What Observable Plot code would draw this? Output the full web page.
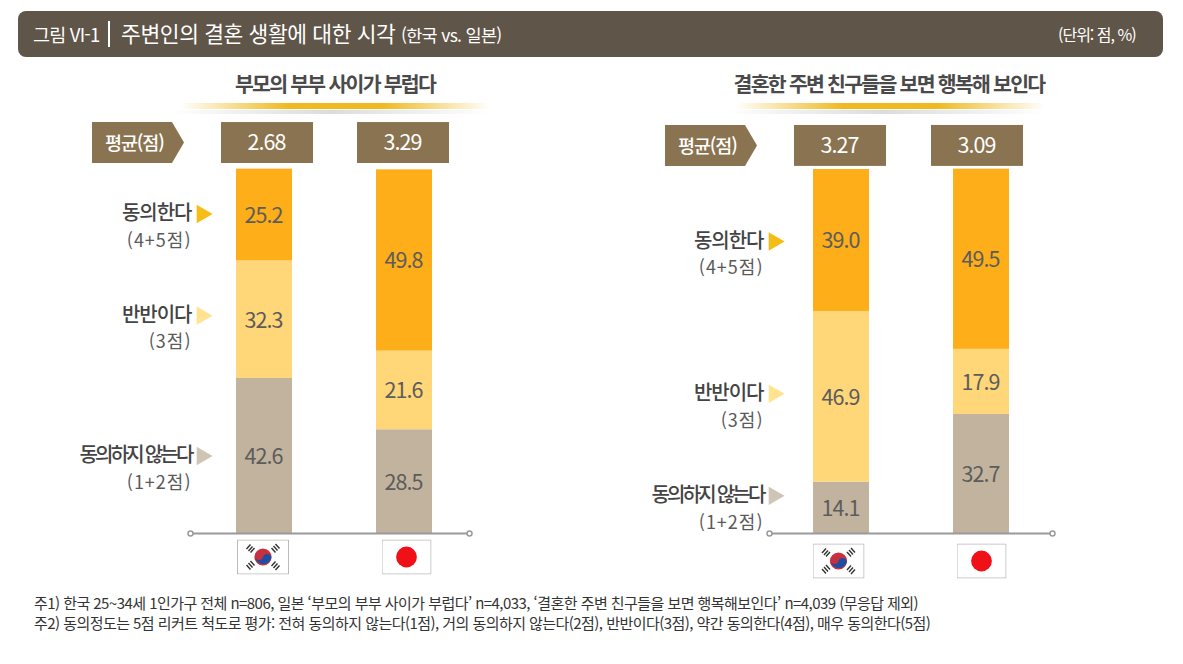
<!DOCTYPE html>
<html lang="ko">
<head>
<meta charset="utf-8">
<script src="https://cdn.jsdelivr.net/npm/d3@7"></script>
<script src="https://cdn.jsdelivr.net/npm/@observablehq/plot@0.6"></script>
<style>
  html, body { margin: 0; padding: 0; background: #fff; }
  #stage { position: relative; width: 1183px; height: 664px; overflow: hidden;
           font-family: "Noto Sans CJK KR", "Noto Sans", sans-serif; }
  #stage svg { position: absolute; top: 0; background: transparent; overflow: visible; }
  .abs { position: absolute; white-space: nowrap; }
  #header { left: 18px; top: 11px; width: 1145px; height: 46px; border-radius: 8px; background: #5f5548; color: #fff; }
  #header span { position: absolute; white-space: nowrap; line-height: 1; }
  .panelTitle { top: 69px; font-size: 20.5px; font-weight: 700; color: #4a4a4a; letter-spacing: -1.75px;
                transform: translateX(-50%); line-height: 28px; }
  .gold { height: 6px; background: linear-gradient(90deg, rgba(240,185,30,0), #f1b91f 35%, #f1b91f 65%, rgba(240,185,30,0)); }
  .grey { height: 4px; background: linear-gradient(90deg, rgba(200,200,200,0), #dcdcdc 50%, rgba(200,200,200,0)); }
  .tag { width: 92px; height: 41px; background: #8a7350; color: #fff; font-size: 18.5px; font-weight: 500; letter-spacing: -1.1px;
         line-height: 40px; text-indent: 13px; clip-path: polygon(0 0, 80px 0, 92px 50%, 80px 100%, 0 100%); }
  .note { left: 34px; font-size: 15px; color: #333; letter-spacing: -.55px; line-height: 20px; }
</style>
</head>
<body>
<div id="stage">
  <div id="header" class="abs">
    <span style="left:15px;top:14px;font-size:18.5px;letter-spacing:-.8px">그림 VI-1</span>
    <span style="left:90px;top:10px;width:1.5px;height:26px;background:#fff"></span>
    <span style="left:103px;top:11px;font-size:21.5px;letter-spacing:-.4px">주변인의 결혼 생활에 대한 시각</span>
    <span style="left:383px;top:15px;font-size:17.5px;letter-spacing:-.7px">(한국 vs. 일본)</span>
    <span style="left:1040px;top:15px;font-size:16px;letter-spacing:-1px">(단위: 점, %)</span>
  </div>
  <div class="abs panelTitle" style="left:335px">부모의 부부 사이가 부럽다</div>
  <div class="abs gold" style="left:180px;top:103px;width:310px"></div>
  <div class="abs grey" style="left:170px;top:110px;width:320px"></div>
  <div class="abs panelTitle" style="left:889px">결혼한 주변 친구들을 보면 행복해 보인다</div>
  <div class="abs gold" style="left:735px;top:103px;width:310px"></div>
  <div class="abs grey" style="left:725px;top:110px;width:320px"></div>
  <div class="abs note" style="top:593px">주1) 한국 25~34세 1인가구 전체 n=806, 일본 ‘부모의 부부 사이가 부럽다’ n=4,033, ‘결혼한 주변 친구들을 보면 행복해보인다’ n=4,039 (무응답 제외)</div>
  <div class="abs note" style="top:613px">주2) 동의정도는 5점 리커트 척도로 평가: 전혀 동의하지 않는다(1점), 거의 동의하지 않는다(2점), 반반이다(3점), 약간 동의한다(4점), 매우 동의한다(5점)</div>
</div>
<script>
// Data
const countries = ["한국", "일본"];
const levels = ["동의하지 않는다", "반반이다", "동의한다"];
const levelNotes = ["(1+2점)", "(3점)", "(4+5점)"];
const parentsKorea = [42.6, 32.3, 25.2];
const parentsJapan = [28.5, 21.6, 49.8];
const friendsKorea = [14.1, 46.9, 39.0];
const friendsJapan = [32.7, 17.9, 49.5];
const parentsMeans = [2.68, 3.29];
const friendsMeans = [3.27, 3.09];
const meanLabel = "평균(점)";

const levelColors = ["#c2b39e", "#ffd678", "#fdae19"];
const arrowColors = ["#cfc5b4", "#ffe391", "#f6bd16"];

const flagKR = "data:image/svg+xml," + encodeURIComponent(`<svg xmlns="http://www.w3.org/2000/svg" width="52" height="35" viewBox="0 0 52 35">
<rect x=".5" y=".5" width="51" height="34" fill="#fff" stroke="#bbb"/>
<circle cx="26" cy="17.5" r="8.6" fill="#c8303f"/>
<path d="M17.6 16.5a4.3 4.3 0 0 0 8.4 1a4.3 4.3 0 0 1 8.4 1a8.6 8.6 0 0 1-16.8-2z" fill="#1f4ea1"/>
<g stroke="#333" stroke-width="1.4" fill="none">
<path d="M9.5 9.5l4-4.5M11.5 11.5l4-4.5M13.5 13l4-4.5"/>
<path d="M34.5 8.5l4 4.5M36.5 6.5l4 4.5M38.5 4.5l4 4.5"/>
<path d="M9.5 25.5l4 4.5M11.5 23.5l4 4.5M13.5 21.5l4 4.5"/>
<path d="M34.5 26.5l4-4.5M36.5 28.5l4-4.5M38.5 30.5l4-4.5"/>
</g></svg>`);
const flagJP = "data:image/svg+xml," + encodeURIComponent(`<svg xmlns="http://www.w3.org/2000/svg" width="50" height="35" viewBox="0 0 50 35">
<rect x=".5" y=".5" width="49" height="34" fill="#fff" stroke="#bbb"/>
<circle cx="25" cy="17.5" r="10.4" fill="#f01018"/></svg>`);

// Applies a per-row pixel shift (and optional letter spacing) after a mark has rendered
function shifted(labels, selector, extraDy, spacing) {
  return (i, s, v, d, ctx, next) => {
    const g = next(i, s, v, d, ctx);
    d3.select(g).selectAll(selector).each(function(_, k) {
      const el = d3.select(this);
      const t = el.attr("transform") || "";
      el.attr("transform", `translate(0,${labels[i[k]].dy + extraDy}) ${t}`);
      if (spacing) el.style("letter-spacing", spacing(labels[i[k]]));
    });
    return g;
  };
}

function spacedValues(spacing) {
  return (i, s, v, d, ctx, next) => {
    const g = next(i, s, v, d, ctx);
    d3.select(g).selectAll("text").style("letter-spacing", spacing);
    return g;
  };
}

function panel(cfg) {
  const rows = [];
  countries.forEach((country, c) => levels.forEach((level, l) => {
    rows.push({country, level, value: cfg.series[c][l]});
  }));
  const stacked = {x: "country", y: "value", z: "level"};
  let base = 0;
  const labels = levels.map((level, i) => {
    const v = cfg.series[0][i];
    const row = {level, note: levelNotes[i], color: arrowColors[i], y: base + v / 2, dy: cfg.labelDy[i]};
    base += v;
    return row;
  });
  const font = {fontFamily: '"Noto Sans CJK KR", sans-serif'};
  const marks = [
    Plot.barY(rows, Plot.stackY({...stacked, fill: "level"})),
    Plot.text(rows, Plot.stackY({...stacked, text: d => d.value.toFixed(1), fill: "#5c5c5c", fontSize: 21.5, dy: 1, dx: -1, ...font, render: spacedValues("-1px")})),
    Plot.ruleY([0], {stroke: "#9a9a9a", strokeWidth: 2, insetLeft: cfg.axisInset[0], insetRight: cfg.axisInset[1]}),
    Plot.dot([0], {y: d => d, frameAnchor: "left", dx: cfg.axisInset[0], r: 2.5, fill: "#fff", stroke: "#9a9a9a", strokeWidth: 1.5}),
    Plot.dot([0], {y: d => d, frameAnchor: "right", dx: -cfg.axisInset[1], r: 2.5, fill: "#fff", stroke: "#9a9a9a", strokeWidth: 1.5}),
    Plot.text(labels, {y: "y", text: "level", frameAnchor: "left", textAnchor: "end", dx: cfg.labelDx, fill: "#444", fontSize: 20, fontWeight: 500, ...font,
      render: shifted(labels, "text", 0, d => d.level.length > 4 ? "-2.8px" : "-1px")}),
    Plot.text(labels, {y: "y", text: "note", frameAnchor: "left", textAnchor: "end", dx: cfg.labelDx, fill: "#5a5a5a", fontSize: 18, ...font,
      render: shifted(labels, "text", 27, () => "1px")}),
    Plot.dot(labels, {y: "y", frameAnchor: "left", dx: cfg.labelDx + 10.5, symbol: "triangle", r: 6.8, rotate: 90, fill: "color", stroke: null,
      render: shifted(labels, "path", 0)})
  ];
  countries.forEach((country, c) => {
    const datum = [{country, mean: cfg.means[c]}];
    marks.push(
      Plot.barY(datum, {x: "country", y1: cfg.boxY[0], y2: cfg.boxY[1], fill: "#8a7350", dx: cfg.boxDx[c], insetLeft: -18, insetRight: -18}),
      Plot.text(datum, {x: "country", y: () => (cfg.boxY[0] + cfg.boxY[1]) / 2, text: d => d.mean.toFixed(2), fill: "#fff", fontSize: 21.5, dx: cfg.boxDx[c] - 1, ...font, render: spacedValues("-1px")}),
      Plot.image(datum, {x: "country", y: () => 0, src: () => c === 0 ? flagKR : flagJP, width: c === 0 ? 52 : 50, height: 35, dx: cfg.flagDx[c], dy: cfg.flagDy, preserveAspectRatio: "none"})
    );
  });
  const svg = Plot.plot({
    width: cfg.width, height: 664,
    marginLeft: cfg.marginLeft, marginRight: cfg.width - cfg.marginLeft - 364, marginTop: 169, marginBottom: 131,
    style: {background: "transparent", overflow: "visible"},
    x: {domain: countries, paddingInner: 0.6, paddingOuter: 0.6, round: false, axis: null},
    y: {domain: [0, 100], axis: null},
    color: {domain: levels, range: levelColors},
    marks
  });
  svg.style.left = cfg.left + "px";
  return svg;
}

const stage = document.getElementById("stage");
stage.prepend(panel({
  left: 0, width: 591, marginLeft: 152,
  series: [parentsKorea, parentsJapan], means: parentsMeans,
  labelDy: [0, -4, -1], labelDx: 39, axisInset: [38, 47],
  boxY: [101.65, 112.9], boxDx: [3, -1], flagDx: [-1.5, 2], flagDy: 23.5
}));
stage.prepend(panel({
  left: 591, width: 592, marginLeft: 138,
  series: [friendsKorea, friendsJapan], means: friendsMeans,
  labelDy: [-12, -3, 1], labelDx: 34, axisInset: [40, 41],
  boxY: [100.85, 112.1], boxDx: [-1, -4], flagDx: [-3, 0], flagDy: 27.5
}));
[[92, 122], [665, 125]].forEach(([l, t]) => {
  const tag = document.createElement("div");
  tag.className = "abs tag";
  tag.style.left = l + "px";
  tag.style.top = t + "px";
  tag.textContent = meanLabel;
  stage.append(tag);
});
</script>
</body>
</html>
